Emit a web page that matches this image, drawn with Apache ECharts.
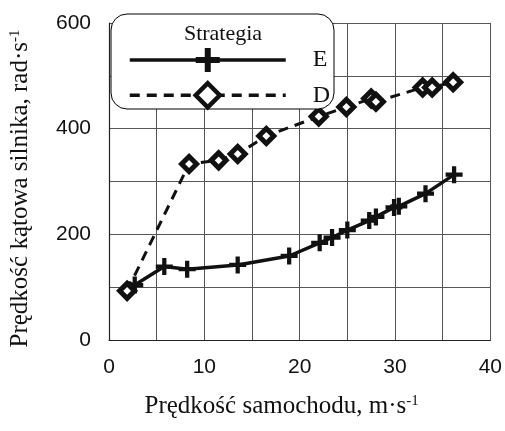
<!DOCTYPE html>
<html>
<head>
<meta charset="utf-8">
<script src="https://cdn.jsdelivr.net/npm/echarts@6/dist/echarts.min.js"></script>
<style>
  html, body { margin: 0; padding: 0; background: #fff; }
  #chart { width: 505px; height: 431px; }
</style>
</head>
<body>
<div id="chart"></div>
<script>
    // dane
    var seriesNames = ['E', 'D'];
    var dataE = [
        [2.0, 95], [2.7, 104], [5.8, 139], [8.2, 134], [13.5, 142], [18.9, 159],
        [22.1, 184], [23.4, 194], [25.0, 208], [27.3, 226], [28.0, 233],
        [29.9, 251], [30.4, 253], [33.2, 277], [36.2, 313]
    ];
    var dataD = [
        [1.9, 93], [8.4, 333], [11.5, 340], [13.5, 352], [16.5, 386], [22.0, 423],
        [24.9, 441], [27.5, 457], [28.0, 451], [32.9, 478], [33.9, 478], [36.1, 488]
    ];
    var xTicks = [0, 10, 20, 30, 40];
    var yTicks = [0, 200, 400, 600];

    var serif = 'Liberation Serif';
    var sans = 'Liberation Sans';
    var crossPath = 'path://M3,0H5V3H8V5H5V8H3V5H0V3H3Z';

    var myChart = echarts.init(document.getElementById('chart'));

    var option = {
        animation: false,
        backgroundColor: '#fff',
        grid: { left: 108, right: 13, top: 23, bottom: 91 },
        graphic: [
            {
                type: 'rect',
                z: 50,
                shape: { x: 111, y: 14, width: 223, height: 95, r: 16 },
                style: { fill: '#fff', stroke: '#000', lineWidth: 1 }
            },
            {
                type: 'text',
                z: 51,
                x: 223, y: 34,
                style: {
                    text: 'Strategia', fill: '#111', font: '22px "' + serif + '"',
                    align: 'center', verticalAlign: 'middle'
                }
            }
        ],
        legend: {
            z: 60,
            orient: 'vertical',
            left: 128,
            top: 48,
            padding: 0,
            itemWidth: 156,
            itemHeight: 30,
            itemGap: 9,
            data: seriesNames,
            lineStyle: { width: 3.5 },
            itemStyle: { borderWidth: 4.5 },
            textStyle: {
                fontFamily: serif, fontSize: 24, color: '#111',
                padding: [0, 0, 0, 22]
            }
        },
        xAxis: {
            type: 'value',
            min: 0, max: 40, interval: 5,
            name: '{a|Prędkość samochodu, m·s}{s|-1}',
            nameLocation: 'middle',
            nameGap: 54,
            nameTextStyle: {
                padding: [0, 36, 0, 0],
                rich: {
                    a: { fontFamily: serif, fontSize: 25, color: '#111' },
                    s: { fontFamily: serif, fontSize: 15, color: '#111', verticalAlign: 'top', padding: [0, 0, 10, 0] }
                }
            },
            axisLine: { lineStyle: { color: '#222', width: 1.2 } },
            axisTick: { show: false },
            axisLabel: {
                fontFamily: sans, fontSize: 21, color: '#111', margin: 17,
                formatter: function (v) { return xTicks.indexOf(v) >= 0 ? v : ''; }
            },
            splitLine: { lineStyle: { color: '#555', width: 1 } }
        },
        yAxis: {
            type: 'value',
            min: 0, max: 600, interval: 100,
            name: '{a|Prędkość kątowa silnika, rad·s}{s|-1}',
            nameLocation: 'middle',
            nameGap: 76,
            nameTextStyle: {
                padding: [0, 14, 0, 0],
                rich: {
                    a: { fontFamily: serif, fontSize: 25, color: '#111' },
                    s: { fontFamily: serif, fontSize: 15, color: '#111', verticalAlign: 'top', padding: [0, 0, 10, 0] }
                }
            },
            axisLine: { show: true, lineStyle: { color: '#222', width: 1.2 } },
            axisTick: { show: false },
            axisLabel: {
                fontFamily: sans, fontSize: 21, color: '#111', margin: 18,
                formatter: function (v) { return yTicks.indexOf(v) >= 0 ? v : ''; }
            },
            splitLine: { lineStyle: { color: '#555', width: 1 } }
        },
        series: [
            {
                name: 'E',
                type: 'line',
                data: dataE,
                symbol: crossPath,
                symbolSize: 17,
                z: 3,
                lineStyle: { color: '#111', width: 3.5 },
                itemStyle: { color: '#111', borderWidth: 0 }
            },
            {
                name: 'D',
                type: 'line',
                data: dataD,
                symbol: 'diamond',
                symbolSize: 15,
                z: 4,
                lineStyle: { color: '#111', width: 3, type: [10, 7] },
                itemStyle: { color: '#fff', borderColor: '#111', borderWidth: 5 }
            }
        ]
    };

    myChart.setOption(option);
</script>
</body>
</html>
